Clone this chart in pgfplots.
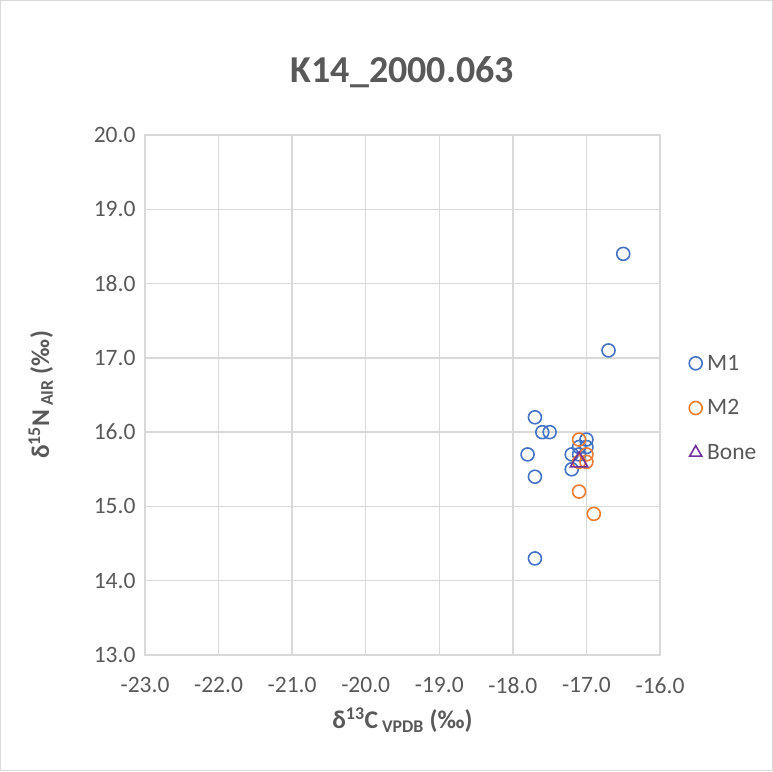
\documentclass[border=0pt]{standalone}
\usepackage{pgfplots}
\pgfplotsset{compat=1.18}
\usepackage{fontspec}
\setmainfont{Carlito}
\definecolor{txt}{HTML}{595959}
\definecolor{grd}{HTML}{D9D9D9}
\definecolor{xblue}{HTML}{4472C4}
\definecolor{xorange}{HTML}{ED7D31}
\definecolor{xpurple}{HTML}{7030A0}
\begin{document}
\begin{tikzpicture}
\begin{axis}[
  scale only axis,
  width=515pt, height=520pt,
  xmin=-23, xmax=-16, ymin=13, ymax=20,
  xtick={-23,-22,...,-16}, ytick={13,14,...,20},
  xticklabel style={/pgf/number format/.cd,fixed,fixed zerofill,precision=1},
  yticklabel style={/pgf/number format/.cd,fixed,fixed zerofill,precision=1},
  /pgf/number format/assume math mode=true,
  tick label style={font=\fontsize{23.5}{26}\selectfont, text=txt},
  major tick length=0pt,
  grid=major,
  major grid style={grd, line width=1.5pt},
  axis line style={grd, line width=1.5pt},
  xticklabel shift=19pt, yticklabel shift=6pt,
  title={\textbf{K14\_2000.063}},
  title style={font=\fontsize{38}{42}\selectfont, text=txt, yshift=38pt},
  xlabel={\textbf{δ\textsuperscript{13}C\textsubscript{ VPDB} (‰)}},
  ylabel={\textbf{δ\textsuperscript{15}N\textsubscript{ AIR} (‰)}},
  label style={font=\fontsize{25.5}{30}\selectfont, text=txt},
  xlabel style={yshift=-7pt},
  ylabel style={yshift=34pt},
  legend style={at={([xshift=26pt]rel axis cs:1,0.475)}, anchor=west, draw=none,
    font=\fontsize{23.5}{26}\selectfont, text=txt, row sep=24pt,
    legend cell align=left,
    /tikz/every odd column/.append style={column sep=3pt}},
  legend image code/.code={\draw[#1] (0cm,0cm) plot coordinates {(0cm,0cm)};},
  clip=false,
]
\addplot[only marks, mark=o, mark size=6.5pt, xblue, line width=1.6pt] coordinates {
(-16.5,18.4) (-16.7,17.1) (-17.7,16.2) (-17.6,16.0) (-17.5,16.0)
(-17.8,15.7) (-17.7,15.4) (-17.7,14.3) (-17.2,15.7) (-17.2,15.5)
(-17.0,15.9) (-17.0,15.8) (-17.1,15.8) (-17.1,15.7)
};
\addlegendentry{M1}
\addplot[only marks, mark=o, mark size=6.5pt, xorange, line width=1.6pt] coordinates {
(-17.1,15.9) (-17.0,15.7) (-17.0,15.6) (-17.1,15.6) (-17.1,15.2) (-16.9,14.9)
};
\addlegendentry{M2}
\addplot[only marks, mark=triangle, mark size=10pt, xpurple, line width=1.6pt,
  legend image post style={mark size=7pt}] coordinates {
(-17.1,15.6)
};
\addlegendentry{Bone}
\draw[grd, line width=1pt] ([xshift=-144.5pt,yshift=-115.5pt]rel axis cs:0,0) rectangle ([xshift=112.5pt,yshift=134.5pt]rel axis cs:1,1);
\end{axis}
\end{tikzpicture}
\end{document}
